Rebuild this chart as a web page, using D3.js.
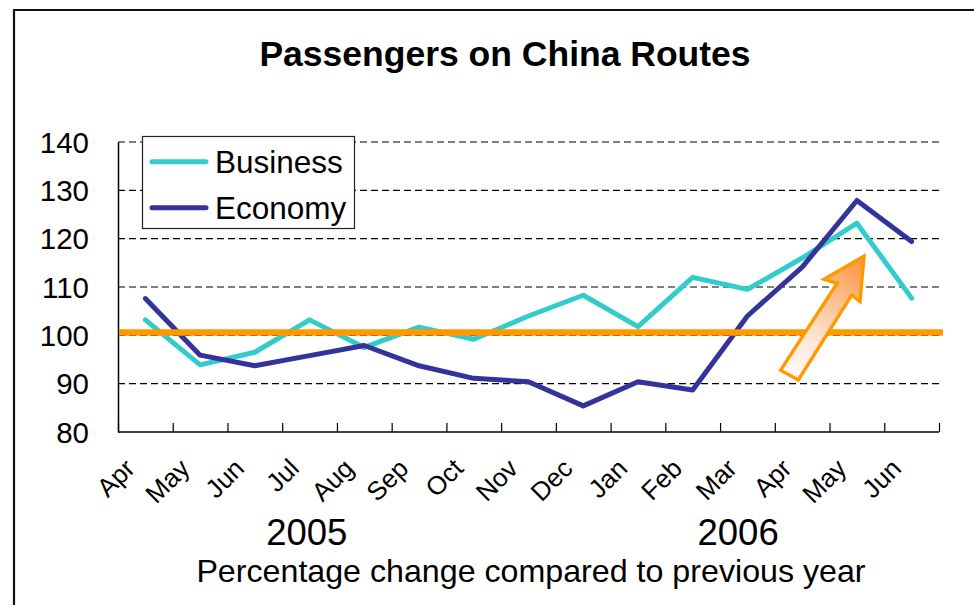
<!DOCTYPE html>
<html><head><meta charset="utf-8">
<script src="https://cdn.jsdelivr.net/npm/d3@7"></script>
<style>html,body{margin:0;padding:0;background:#fff;}svg{display:block;font-family:"Liberation Sans",Arial,sans-serif;}</style>
</head><body>
<script>
const months = ["Apr","May","Jun","Jul","Aug","Sep","Oct","Nov","Dec","Jan","Feb","Mar","Apr","May","Jun"];
const business = [103.2,93.9,96.5,103.2,97.5,101.7,99.2,104.0,108.3,101.8,112.0,109.5,116.0,123.2,107.7];
const economy  = [107.6,95.9,93.7,95.8,97.9,93.7,91.1,90.4,85.4,90.4,88.7,104.0,114.1,127.9,119.4];
const yTicks = [80,90,100,110,120,130,140];
const gridValues = [90,100,110,120,130,140];
const yearLabels = ["2005","2006"];
const yearPos = [3.45,11.33];
const refValue = 100.6;
const seriesNames = ["Business","Economy"];
const seriesColors = ["#33CCCC","#333399"];
// arrow annotation in data space: [index position, value]
const arrowPts = [[12.107,92.8],[13.14,110.77],[12.9,111.6],[13.63,116.4],[13.557,106.96],[13.405,108.35],[12.43,90.76]];

const W=974,H=605;
const svg=d3.select("body").append("svg").attr("width",W).attr("height",H);
const L=118,R=939,T=142,B=432;
const x=d3.scaleLinear().domain([0,months.length]).range([L,R]);
const y=d3.scaleLinear().domain([80,140]).range([B,T]);

// outer border
svg.append("path").attr("d",`M14,${H+5}V10H${W+5}`).attr("fill","none").attr("stroke","#111").attr("stroke-width",2.2);

// title
svg.append("text").attr("x",505).attr("y",66).attr("text-anchor","middle")
  .attr("font-size",35.5).attr("font-weight","bold").text("Passengers on China Routes");

// gridlines
svg.append("g").selectAll("line").data(gridValues).join("line")
  .attr("x1",L).attr("x2",R).attr("y1",d=>y(d)).attr("y2",d=>y(d))
  .attr("stroke","#000").attr("stroke-width",1.1).attr("stroke-dasharray","7,4");

// y axis
const yAxis=d3.axisLeft(y).tickValues(yTicks).tickSize(0).tickPadding(29).tickFormat(d3.format("d"));
const gy=svg.append("g").attr("transform",`translate(${L},0)`).call(yAxis);
gy.select(".domain").attr("stroke","#000").attr("stroke-width",1.5);
gy.selectAll("text").attr("font-size",29.5).attr("fill","#000").attr("font-family","Liberation Sans, Arial, sans-serif").attr("dy","0.35em");

// x axis (ticks at category boundaries, pointing up)
const xAxis=d3.axisBottom(x).tickValues(d3.range(0,months.length+1)).tickSize(-9).tickFormat("");
const gx=svg.append("g").attr("transform",`translate(0,${B})`).call(xAxis);
gx.select(".domain").attr("stroke","#000").attr("stroke-width",1.5).attr("d",`M${L},0H${R}`);
gx.selectAll(".tick line").attr("stroke","#000").attr("stroke-width",1.2);

// month labels
svg.append("g").selectAll("text").data(months).join("text")
  .attr("transform",(d,i)=>`translate(${x(i+0.5)-9},${B+38}) rotate(-45)`)
  .attr("text-anchor","end").attr("font-size",26).text(d=>d);

// year labels
svg.append("g").selectAll("text").data(yearLabels).join("text")
  .attr("x",(d,i)=>x(yearPos[i])).attr("y",545).attr("text-anchor","middle")
  .attr("font-size",36.5).text(d=>d);

svg.append("text").attr("x",531).attr("y",582).attr("text-anchor","middle")
  .attr("font-size",32.2).text("Percentage change compared to previous year");

// series lines
const line=d3.line().x((d,i)=>x(i+0.5)).y(d=>y(d));
[business,economy].forEach((s,k)=>{
  svg.append("path").datum(s).attr("d",line).attr("fill","none")
    .attr("stroke",seriesColors[k]).attr("stroke-width",5)
    .attr("stroke-linejoin","round").attr("stroke-linecap","round");
});

// reference line
svg.append("line").attr("x1",L+1).attr("x2",R+4).attr("y1",y(refValue)).attr("y2",y(refValue))
  .attr("stroke","#FF9900").attr("stroke-width",6.5);

// arrow annotation
const defs=svg.append("defs");
const grad=defs.append("linearGradient").attr("id","ag").attr("gradientUnits","userSpaceOnUse")
  .attr("x1",x(12.25)).attr("y1",y(90)).attr("x2",x(13.6)).attr("y2",y(116));
grad.append("stop").attr("offset","0").attr("stop-color","#ffffff");
grad.append("stop").attr("offset","0.35").attr("stop-color","#fde6d6");
grad.append("stop").attr("offset","1").attr("stop-color","#f9953e");
svg.append("path").attr("d",d3.line().x(d=>x(d[0])).y(d=>y(d[1])).curve(d3.curveLinearClosed)(arrowPts))
  .attr("fill","url(#ag)").attr("stroke","#FF9900").attr("stroke-width",3.4).attr("stroke-linejoin","miter");

// legend
const lg=svg.append("g");
lg.append("rect").attr("x",142.5).attr("y",136.5).attr("width",212).attr("height",92)
  .attr("fill","#fff").attr("stroke","#222").attr("stroke-width",1.2);
seriesNames.forEach((n,k)=>{
  const yy=161.7+k*46;
  lg.append("line").attr("x1",152).attr("x2",206).attr("y1",yy).attr("y2",yy)
    .attr("stroke",seriesColors[k]).attr("stroke-width",5).attr("stroke-linecap","round");
  lg.append("text").attr("x",215).attr("y",yy+11).attr("font-size",31.5).text(n);
});
</script>
</body></html>
